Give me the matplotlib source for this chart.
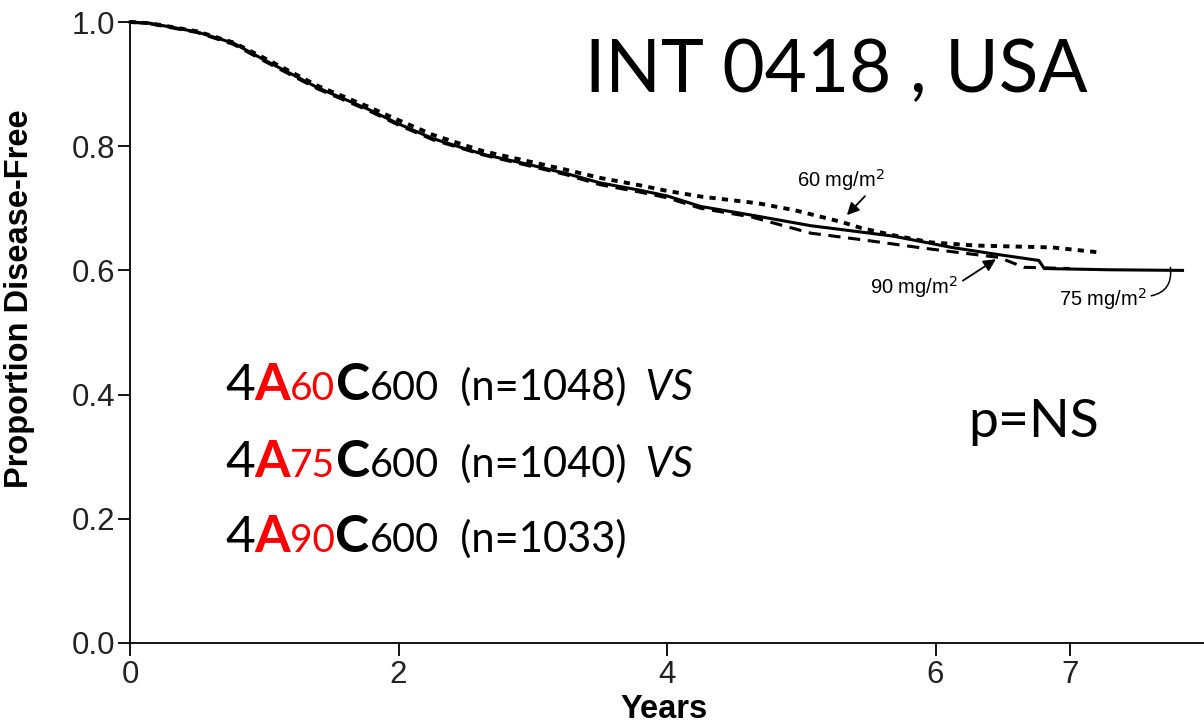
import matplotlib

matplotlib.use("Agg")
import matplotlib.pyplot as plt

# Kaplan-Meier curves: (years, proportion disease-free)
t_60 = [0, 0.15, 0.5, 0.77, 1.0, 1.4, 1.77, 2.0, 2.26, 2.63, 2.96, 3.25, 3.5,
        3.8, 4.0, 4.25, 4.68, 4.95, 5.3, 5.45, 5.7, 5.97, 6.3, 6.87, 7.22]
s_60 = [1.0, 0.998, 0.985, 0.967, 0.942, 0.897, 0.864, 0.842, 0.818, 0.792,
        0.776, 0.762, 0.749, 0.737, 0.728, 0.719, 0.708, 0.697, 0.678, 0.668,
        0.656, 0.645, 0.640, 0.637, 0.629]

t_75 = [0, 0.15, 0.5, 0.77, 1.0, 1.4, 1.77, 2.0, 2.26, 2.63, 2.96, 3.25, 3.5,
        3.8, 4.0, 4.25, 4.63, 5.07, 5.4, 5.69, 6.12, 6.42, 6.77, 6.81, 7.3, 7.84]
s_75 = [1.0, 0.998, 0.984, 0.966, 0.939, 0.894, 0.860, 0.836, 0.812, 0.787,
        0.771, 0.756, 0.741, 0.729, 0.720, 0.703, 0.689, 0.672, 0.663, 0.655,
        0.637, 0.627, 0.616, 0.603, 0.601, 0.600]

t_90 = [0, 0.15, 0.5, 0.77, 1.0, 1.4, 1.77, 2.0, 2.26, 2.63, 2.96, 3.25, 3.5,
        3.8, 4.0, 4.25, 4.63, 5.07, 5.5, 5.87, 6.2, 6.47, 6.66, 7.0]
s_90 = [1.0, 0.997, 0.983, 0.964, 0.937, 0.892, 0.858, 0.834, 0.810, 0.786,
        0.769, 0.754, 0.738, 0.726, 0.717, 0.700, 0.686, 0.660, 0.648, 0.637,
        0.628, 0.621, 0.605, 0.603]

x_ticks = [0, 2, 4, 6, 7]
y_ticks = [0.0, 0.2, 0.4, 0.6, 0.8, 1.0]

arms = [
    ("60", "1048", " VS"),
    ("75", "1040", " VS"),
    ("90", "1033", ""),
]

W, H = 1204, 723
RED = "#ff0000"
SANS = "Liberation Sans"
CAL = "Lato"


def rich_line(ax, x_px, y_px, pieces):
    # pieces: (text, size, color, weight, style); placed one after another on a shared baseline
    prev = None
    for text, size, color, weight, style in pieces:
        kw = dict(fontsize=size, color=color, fontweight=weight, fontstyle=style,
                  family=CAL, ha="left", va="baseline", annotation_clip=False)
        if prev is None:
            prev = ax.annotate(text, xy=(x_px / W, y_px / H), xycoords="figure fraction", **kw)
        else:
            prev = ax.annotate(text, xy=(1, y_px / H), xycoords=(prev, "figure fraction"), **kw)


def main() -> None:
    fig = plt.figure(figsize=(W / 100, H / 100), dpi=100)
    ax = fig.add_axes([130 / W, (H - 643) / H, (W - 130) / W, 621 / H])

    ax.plot(t_75, s_75, color="black", lw=2.2, clip_on=False)
    ax.plot(t_90, s_90, color="black", lw=2.2, ls=(0, (4, 2.5)), clip_on=False)
    ax.plot(t_60, s_60, color="black", lw=2.8, ls=(0, (1.6, 1.6)), clip_on=False)

    ax.set_xlim(0, 8.0)
    ax.set_ylim(0, 1.0)
    ax.set_xticks(x_ticks)
    ax.set_yticks(y_ticks)
    ax.set_yticklabels([f"{v:.1f}" for v in y_ticks])
    for lab in ax.get_xticklabels() + ax.get_yticklabels():
        lab.set_family(SANS)
        lab.set_fontsize(22.5)
        lab.set_color("#222222")
    ax.tick_params(axis="y", direction="out", length=9, width=1.3, pad=1.5)
    ax.tick_params(axis="x", direction="out", length=9, width=1.3, pad=3)
    ax.spines["top"].set_visible(False)
    ax.spines["right"].set_visible(False)
    ax.spines["left"].set_linewidth(1.3)
    ax.spines["bottom"].set_linewidth(1.3)

    ax.set_ylabel("Proportion Disease-Free", family=SANS, fontsize=23.5, fontweight="bold")
    ax.yaxis.set_label_coords(-0.088, 0.554)
    ax.set_xlabel("Years", family=SANS, fontsize=23.5, fontweight="bold", va="top")
    ax.xaxis.set_label_coords(0.497, -0.082)

    # curve labels
    ax.annotate("60 mg/m$^2$", xy=(5.34, 0.689), xytext=(4.97, 0.734),
                fontsize=14.5, family=SANS,
                arrowprops=dict(arrowstyle="-|>", color="black", lw=1.3,
                                mutation_scale=18, shrinkA=0, shrinkB=0,
                                relpos=(0.8, 0.0)))
    ax.annotate("90 mg/m$^2$", xy=(6.45, 0.618), xytext=(5.51, 0.563),
                fontsize=14.5, family=SANS,
                arrowprops=dict(arrowstyle="-|>", color="black", lw=1.3,
                                mutation_scale=18, shrinkA=2, shrinkB=0,
                                relpos=(1.0, 0.6)))
    ax.annotate("75 mg/m$^2$", xy=(7.75, 0.605), xytext=(6.92, 0.543),
                fontsize=14.5, family=SANS,
                arrowprops=dict(arrowstyle="-", color="black", lw=1.1,
                                shrinkA=1, shrinkB=0, relpos=(1.0, 0.6),
                                connectionstyle="arc3,rad=0.5"))

    fig.text(585 / W, (H - 92) / H, "INT 0418 , USA", family=CAL, fontsize=52.5,
             ha="left", va="baseline")
    fig.text(968 / W, (H - 437) / H, "p=NS", family=CAL, fontsize=38.5,
             ha="left", va="baseline")

    baselines = [400, 477, 552]
    for (dose, n, tail), base in zip(arms, baselines):
        pieces = [
            ("4", 37, "black", "normal", "normal"),
            ("A", 37, RED, "bold", "normal"),
            (dose, 28, RED, "normal", "normal"),
            ("C", 37, "black", "bold", "normal"),
            ("600", 28.5, "black", "normal", "normal"),
            (f"  (n={n})", 30, "black", "normal", "normal"),
        ]
        if tail:
            pieces.append((" " + tail, 30, "black", "normal", "italic"))
        rich_line(ax, 225, H - base, pieces)

    fig.savefig("out.png", dpi=100)


if __name__ == "__main__":
    main()
